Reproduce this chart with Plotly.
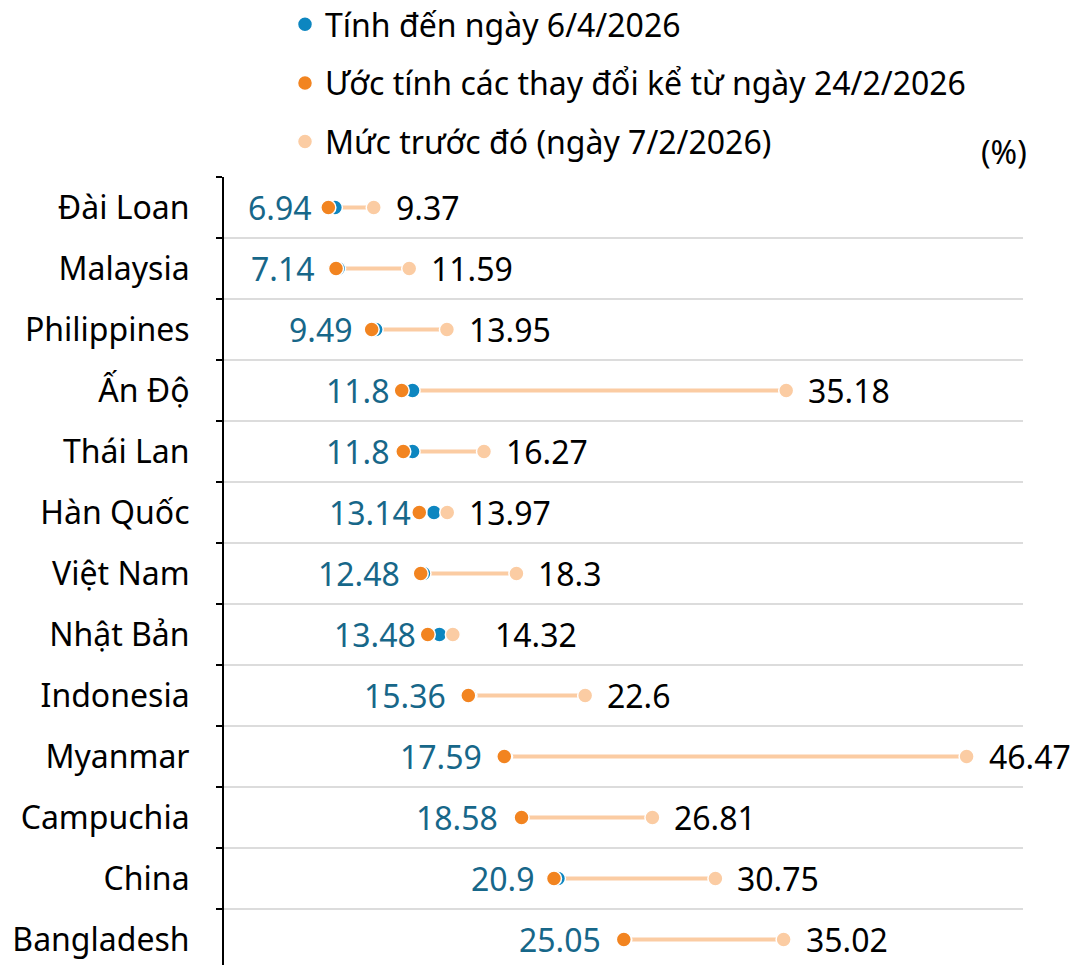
import plotly.graph_objects as go

categories = ["Đài Loan", "Malaysia", "Philippines", "Ấn Độ", "Thái Lan", "Hàn Quốc",
              "Việt Nam", "Nhật Bản", "Indonesia", "Myanmar", "Campuchia", "China", "Bangladesh"]
current = [6.94, 7.14, 9.49, 11.8, 11.8, 13.14, 12.48, 13.48, 15.36, 17.59, 18.58, 20.9, 25.05]
estimate = [6.53, 7.01, 9.24, 11.12, 11.22, 12.22, 12.31, 12.75, 15.29, 17.54, 18.62, 20.65, 25.02]
previous = [9.37, 11.59, 13.95, 35.18, 16.27, 13.97, 18.3, 14.32, 22.6, 46.47, 26.81, 30.75, 35.02]

series_names = ["Tính đến ngày 6/4/2026", "Ước tính các thay đổi kể từ ngày 24/2/2026",
                "Mức trước đó (ngày 7/2/2026)"]
unit_label = "(%)"

BLUE = "#0d86c0"
BLUE_TEXT = "#176789"
ORANGE = "#f28420"
PEACH = "#fbcca3"
FONT = "Noto Sans"
FS = 32

rows = list(range(len(categories)))

fig = go.Figure()

# connecting lines
lx, ly = [], []
for i, (c, p) in enumerate(zip(current, previous)):
    lx += [c, p, None]
    ly += [i, i, None]
fig.add_trace(go.Scatter(x=lx, y=ly, mode="lines", line=dict(color=PEACH, width=4),
                         showlegend=False, hoverinfo="skip"))

fig.add_trace(go.Scatter(x=current, y=rows, mode="markers", name=series_names[0],
                         marker=dict(color=BLUE, size=15, line=dict(color="white", width=1.5)),
                         legendgroup="a", legendrank=1))
fig.add_trace(go.Scatter(x=previous, y=rows, mode="markers", name=series_names[2],
                         marker=dict(color=PEACH, size=15, line=dict(color="white", width=1.5)),
                         legendgroup="c", legendrank=3))
fig.add_trace(go.Scatter(x=estimate, y=rows, mode="markers", name=series_names[1],
                         marker=dict(color=ORANGE, size=15, line=dict(color="white", width=1.5)),
                         legendgroup="b", legendrank=2))

extra_right_shift = {"Nhật Bản": 20}

annotations = []
for i, cat in enumerate(categories):
    annotations.append(dict(x=current[i], y=i, xref="x", yref="y", text=f"{current[i]:g}",
                            showarrow=False, xanchor="right", yanchor="middle", xshift=-21,
                            font=dict(family=FONT, size=FS, color=BLUE_TEXT)))
    annotations.append(dict(x=previous[i], y=i, xref="x", yref="y", text=f"{previous[i]:g}",
                            showarrow=False, xanchor="left", yanchor="middle",
                            xshift=20 + extra_right_shift.get(cat, 0),
                            font=dict(family=FONT, size=FS, color="black")))
annotations.append(dict(x=1, y=1, xref="paper", yref="paper", text=unit_label, showarrow=False,
                        xanchor="right", yanchor="bottom", xshift=6, yshift=2,
                        font=dict(family=FONT, size=FS, color="black")))

W, H = 1071, 965
ML, MT, MR = 224, 177, 48
plot_h = H - MT

fig.update_layout(
    width=W, height=H, autosize=False,
    margin=dict(l=ML, r=MR, t=MT, b=0, pad=0, autoexpand=False),
    plot_bgcolor="white", paper_bgcolor="white",
    font=dict(family=FONT, size=FS, color="black"),
    showlegend=True,
    legend=dict(x=(285 - ML) / (W - ML - MR), y=1 + (MT + 3) / plot_h, xanchor="left",
                yanchor="top", orientation="v",
                font=dict(family=FONT, size=FS, color="black"), tracegroupgap=14,
                bgcolor="rgba(0,0,0,0)"),
    annotations=annotations,
    xaxis=dict(range=[0, 50], showgrid=False, zeroline=False, showticklabels=False,
               ticks="", showline=False, fixedrange=True),
    yaxis=dict(range=[-0.5 + plot_h / 61, -0.5], tickmode="array", tickvals=rows,
               ticktext=categories, ticks="", showgrid=False, zeroline=False,
               showline=True, linecolor="black", linewidth=2,
               ticklabelstandoff=26,
               tickfont=dict(family=FONT, size=FS, color="black"),
               minor=dict(tickmode="array", tickvals=[r - 0.5 for r in range(len(categories) + 1)],
                          ticks="outside", ticklen=6, tickwidth=2, tickcolor="black",
                          showgrid=True, gridcolor="#dcdcdc", gridwidth=2)),
)

fig.write_html("out.html", config={"displayModeBar": False},
               post_script="document.body.style.margin='0';document.body.style.overflow='hidden';")
